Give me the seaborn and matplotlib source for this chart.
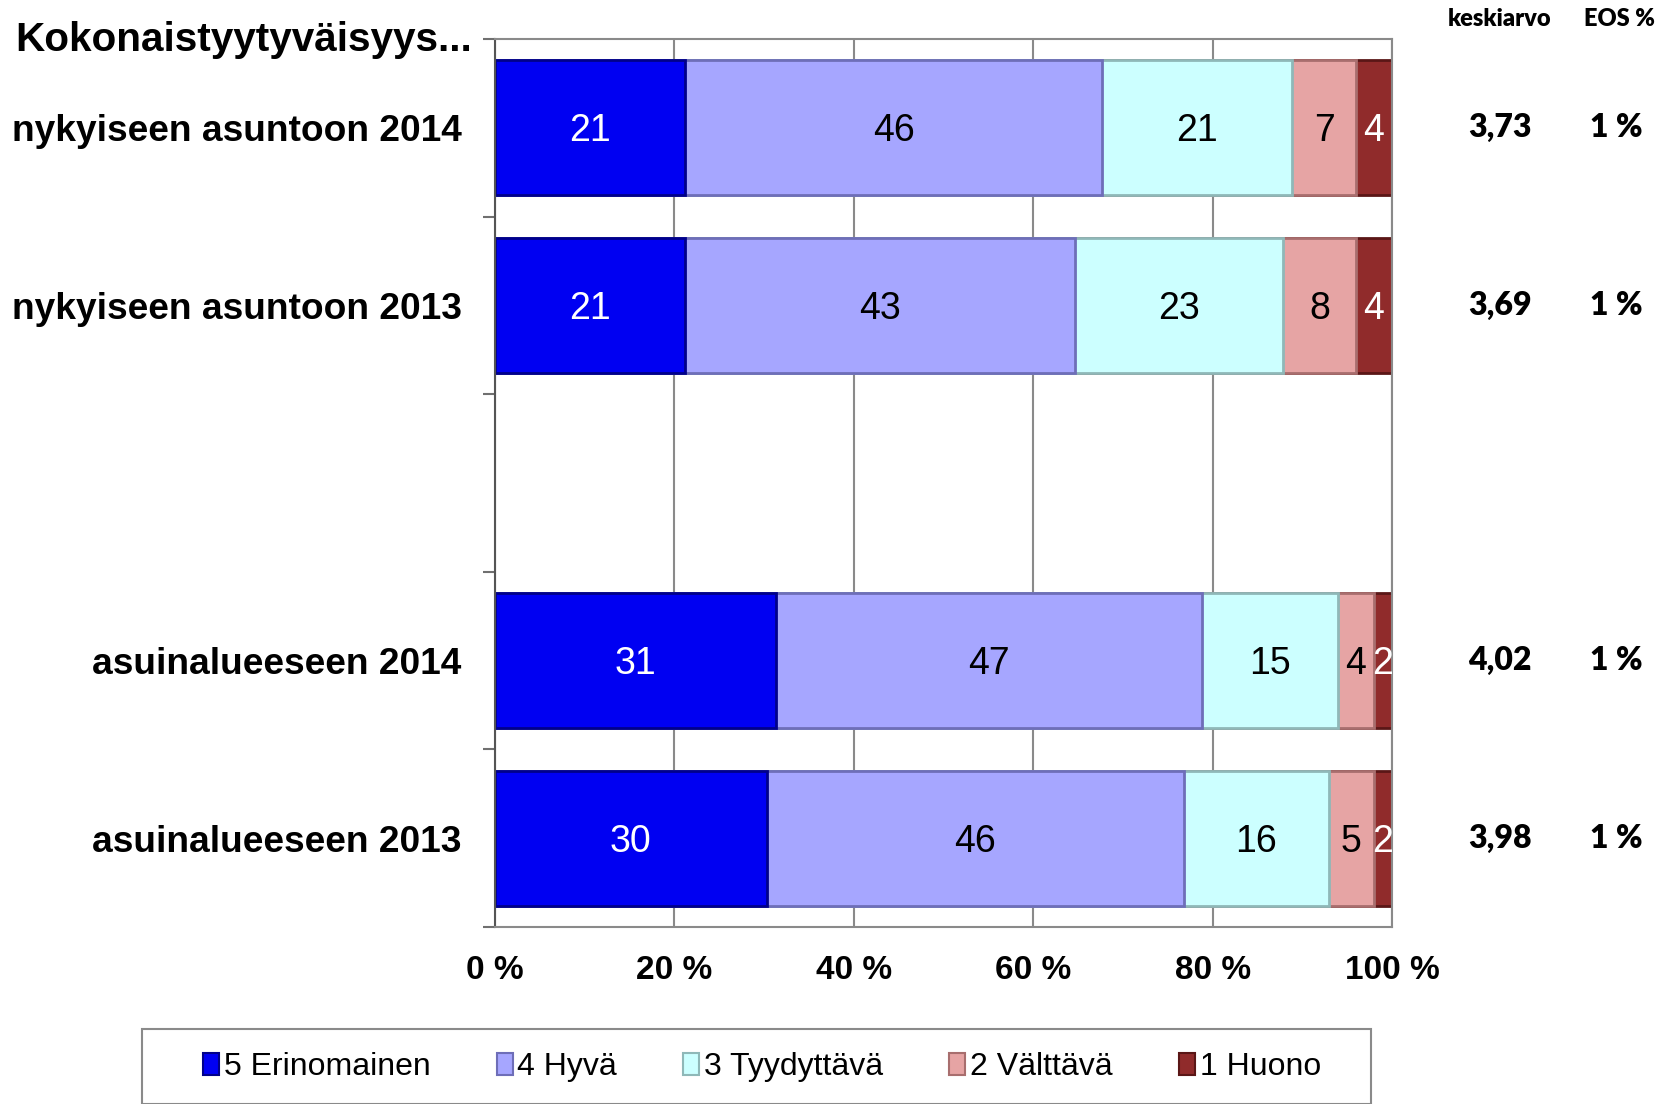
import numpy as np
import pandas as pd
import matplotlib.pyplot as plt
import seaborn as sns
from matplotlib.patches import Patch, Rectangle

# --- DATA ---
rivit = ["nykyiseen asuntoon 2014", "nykyiseen asuntoon 2013",
         "asuinalueeseen 2014", "asuinalueeseen 2013"]
jarjestys = ["nykyiseen asuntoon 2014", "nykyiseen asuntoon 2013", " ",
             "asuinalueeseen 2014", "asuinalueeseen 2013"]
luokat = ["5 Erinomainen", "4 Hyvä", "3 Tyydyttävä", "2 Välttävä", "1 Huono"]
erinomainen = [21, 21, 31, 30]
hyva = [46, 43, 47, 46]
tyydyttava = [21, 23, 15, 16]
valttava = [7, 8, 4, 5]
huono = [4, 4, 2, 2]
keskiarvo = ["3,73", "3,69", "4,02", "3,98"]
eos = ["1 %", "1 %", "1 %", "1 %"]
otsikko = "Kokonaistyytyväisyys..."

varit = ["#0000F2", "#A6A6FF", "#CCFFFF", "#E6A4A4", "#902B2B"]
reunat = ["#00008A", "#6E6EB8", "#8FB8B8", "#A86E6E", "#5A1616"]
tekstivarit = ["white", "black", "black", "black", "white"]

sns.set_theme(style="white")
plt.rcParams['font.family'] = ['Liberation Sans', 'DejaVu Sans']
plt.rcParams['text.color'] = 'black'
plt.rcParams['xtick.color'] = 'black'
plt.rcParams['ytick.color'] = 'black'

# taulukko: prosentit normalisoidaan 100 %:iin
arvot = np.array([erinomainen, hyva, tyydyttava, valttava, huono], dtype=float).T
pros = arvot / arvot.sum(axis=1, keepdims=True) * 100
kum = np.cumsum(pros, axis=1)
df = pd.DataFrame(kum, columns=luokat)
df["rivi"] = rivit

fig = plt.figure(figsize=(16.7, 11.04), dpi=100)
ax = fig.add_axes([495 / 1670, 1 - 927 / 1104, 897 / 1670, 888 / 1104])

# pinotut palkit: piirretään suurimmasta kumulatiivisesta summasta alkaen
for i in reversed(range(len(luokat))):
    sns.barplot(data=df, x=luokat[i], y="rivi", order=jarjestys, orient="h",
                color=varit[i], saturation=1, width=0.76, errorbar=None,
                edgecolor=reunat[i], linewidth=2, ax=ax)

# arvot palkkien sisään
for r, nimi in enumerate(rivit):
    y = jarjestys.index(nimi)
    for i in range(len(luokat)):
        xc = kum[r, i] - pros[r, i] / 2
        ax.text(xc, y + 0.02, f"{int(arvot[r, i])}", ha="center", va="center",
                fontsize=27, color=tekstivarit[i])
    ax.text(1.12, y, keskiarvo[r], transform=ax.get_yaxis_transform(),
            ha="center", va="center", fontsize=23, fontweight="heavy",
            family=["Lato", "DejaVu Sans"], clip_on=False)
    ax.text(1.25, y, eos[r], transform=ax.get_yaxis_transform(),
            ha="center", va="center", fontsize=23, fontweight="heavy",
            family=["Lato", "DejaVu Sans"], clip_on=False)

fig.text(1500 / 1670, 1 - 19 / 1104, "keskiarvo", ha="center", va="center",
         fontsize=17, fontweight="heavy", family=["Lato", "DejaVu Sans"])
fig.text(1619 / 1670, 1 - 19 / 1104, "EOS %", ha="center", va="center",
         fontsize=17, fontweight="heavy", family=["Lato", "DejaVu Sans"])
fig.text(472 / 1670, 1 - 40 / 1104, otsikko, ha="right", va="center",
         fontsize=29.2, fontweight="bold")

# akselit
ax.set_xlim(0, 100)
ax.set_xticks([0, 20, 40, 60, 80, 100])
ax.set_xticklabels([f"{t} %" for t in [0, 20, 40, 60, 80, 100]],
                   fontsize=24, fontweight="bold")
ax.tick_params(axis="x", length=0, pad=20)
ax.set_yticks(range(len(jarjestys)))
ax.set_yticklabels(jarjestys, fontsize=26.7, fontweight="bold")
ax.tick_params(axis="y", which="major", length=0, pad=24)
ax.set_yticks(np.arange(-0.5, len(jarjestys), 1), minor=True)
ax.tick_params(axis="y", which="minor", length=9, width=1.5,
               color="#707070", direction="out", left=True)
ax.set_ylim(len(jarjestys) - 0.5, -0.5)
ax.set_xlabel("")
ax.set_ylabel("")
ax.xaxis.grid(True, color="#8a8a8a", linewidth=1.5)
ax.set_axisbelow(True)
for s in ax.spines.values():
    s.set_color("#8a8a8a")
    s.set_linewidth(1.5)
ax.spines["left"].set_color("#555555")

# selite
fig.patches.append(Rectangle((142 / 1670, 0), (1371 - 142) / 1670, 1 - 1029 / 1104,
                             transform=fig.transFigure, fill=False,
                             edgecolor="#8a8a8a", linewidth=1.5))
kahvat = [Patch(facecolor=varit[i], edgecolor=reunat[i], linewidth=1.5)
          for i in range(len(luokat))]
fig.legend(kahvat, luokat, loc="center", ncol=5, frameon=False,
           bbox_to_anchor=(762 / 1670, 1 - 1067 / 1104), fontsize=23,
           handlelength=0.5, handleheight=0.7, handletextpad=0.15,
           columnspacing=2.07)

fig.savefig("out.png", dpi=100)
